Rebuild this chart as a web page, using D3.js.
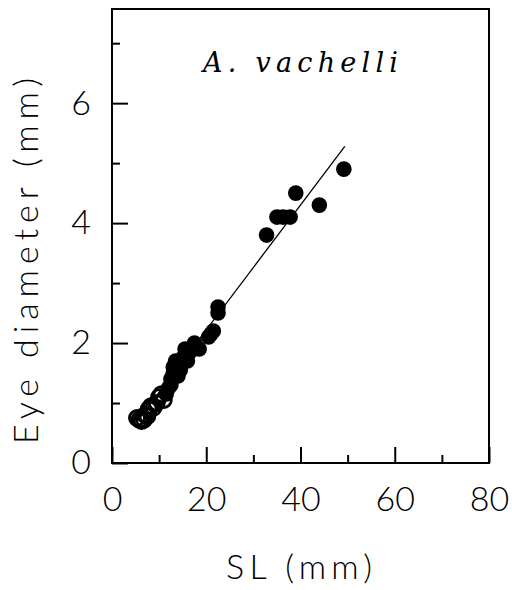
<!DOCTYPE html>
<html>
<head>
<meta charset="utf-8">
<script src="https://cdn.jsdelivr.net/npm/d3@7"></script>
<style>
  body { margin: 0; background: #fff; }
</style>
</head>
<body>
<div id="chart"></div>
<script>
// open circles (small fish)
const openSL = [5.3, 5.8, 6.3, 6.8, 7.0, 7.5, 7.8, 8.3, 8.8, 9.5, 10.0, 10.5, 11.0];
const openED = [0.75, 0.72, 0.70, 0.72, 0.80, 0.78, 0.90, 0.95, 0.92, 1.00, 1.10, 1.15, 1.05];

// filled circles
const fillSL = [11.5, 12, 12.5, 12.5, 13, 13, 13.5, 14, 14.5, 15, 15.5, 16, 16.5, 17.5, 18.5,
                20.5, 21, 21.5, 22.5, 22.5, 32.8, 35, 36.3, 37.8, 39, 44, 49.2];
const fillED = [1.15, 1.25, 1.3, 1.4, 1.5, 1.6, 1.7, 1.45, 1.55, 1.75, 1.9, 1.7, 1.85, 2.0, 1.9,
                2.1, 2.15, 2.2, 2.5, 2.6, 3.8, 4.1, 4.1, 4.1, 4.5, 4.3, 4.9];

// fitted line end points
const lineSL = [5.5, 49.4];
const lineED = [0.71, 5.28];

const xTicks = [0, 20, 40, 60, 80];
const xMinor = [10, 30, 50, 70];
const yTicks = [0, 2, 4, 6];
const yMinor = [1, 3, 5, 7];

const width = 512, height = 590;
const labelFont = "Lato, 'Open Sans', sans-serif";

const svg = d3.select("#chart").append("svg")
  .attr("width", width)
  .attr("height", height);

const x = d3.scaleLinear().domain([0, 80]).range([112, 489]);
const y = d3.scaleLinear().domain([0, 7.57]).range([463, 9]);

// frame
svg.append("rect")
  .attr("x", x(0)).attr("y", y(7.57))
  .attr("width", x(80) - x(0)).attr("height", y(0) - y(7.57))
  .attr("fill", "none").attr("stroke", "#000").attr("stroke-width", 2);

// x axis, ticks pointing inward
svg.append("g")
  .attr("transform", `translate(0,${y(0)})`)
  .call(d3.axisBottom(x).tickValues(xTicks).tickSize(-16).tickPadding(24).tickFormat(d3.format("d")));
svg.append("g")
  .attr("transform", `translate(0,${y(0)})`)
  .call(d3.axisBottom(x).tickValues(xMinor).tickSize(-8).tickFormat(""));

// y axis
svg.append("g")
  .attr("transform", `translate(${x(0)},0)`)
  .call(d3.axisLeft(y).tickValues(yTicks).tickSize(-16).tickPadding(21).tickFormat(d3.format("d")));
svg.append("g")
  .attr("transform", `translate(${x(0)},0)`)
  .call(d3.axisLeft(y).tickValues(yMinor).tickSize(-8).tickFormat(""));

svg.selectAll(".domain").remove();
svg.selectAll(".tick line").attr("stroke", "#000").attr("stroke-width", 2);
svg.selectAll(".tick text")
  .attr("fill", "#000")
  .style("font-family", labelFont)
  .style("font-weight", 300)
  .style("font-size", "34px");

// fitted line
svg.append("line")
  .attr("x1", x(lineSL[0])).attr("y1", y(lineED[0]))
  .attr("x2", x(lineSL[1])).attr("y2", y(lineED[1]))
  .attr("stroke", "#000").attr("stroke-width", 1.3);

// open circles
svg.append("g").selectAll("circle")
  .data(openSL.map((d, i) => [d, openED[i]]))
  .enter().append("circle")
  .attr("cx", d => x(d[0]))
  .attr("cy", d => y(d[1]))
  .attr("r", 7.5)
  .attr("fill", "none")
  .attr("stroke", "#000")
  .attr("stroke-width", 2.8);

// filled circles
svg.append("g").selectAll("circle")
  .data(fillSL.map((d, i) => [d, fillED[i]]))
  .enter().append("circle")
  .attr("cx", d => x(d[0]))
  .attr("cy", d => y(d[1]))
  .attr("r", 7.8)
  .attr("fill", "#000");

// species name
svg.append("text")
  .attr("x", 203).attr("y", 72)
  .attr("textLength", 195)
  .attr("lengthAdjust", "spacing")
  .style("font-family", "'DejaVu Serif', serif")
  .style("font-style", "italic")
  .style("font-size", "27px")
  .text("A. vachelli");

// axis titles
svg.append("text")
  .attr("x", 299).attr("y", 579)
  .attr("text-anchor", "middle")
  .attr("textLength", 146)
  .attr("lengthAdjust", "spacing")
  .style("font-family", labelFont)
  .style("font-weight", 300)
  .style("font-size", "34px")
  .text("SL (mm)");

svg.append("text")
  .attr("transform", "translate(38,261) rotate(-90)")
  .attr("text-anchor", "middle")
  .attr("textLength", 366)
  .attr("lengthAdjust", "spacing")
  .style("font-family", labelFont)
  .style("font-weight", 300)
  .style("font-size", "34px")
  .text("Eye diameter (mm)");
</script>
</body>
</html>
